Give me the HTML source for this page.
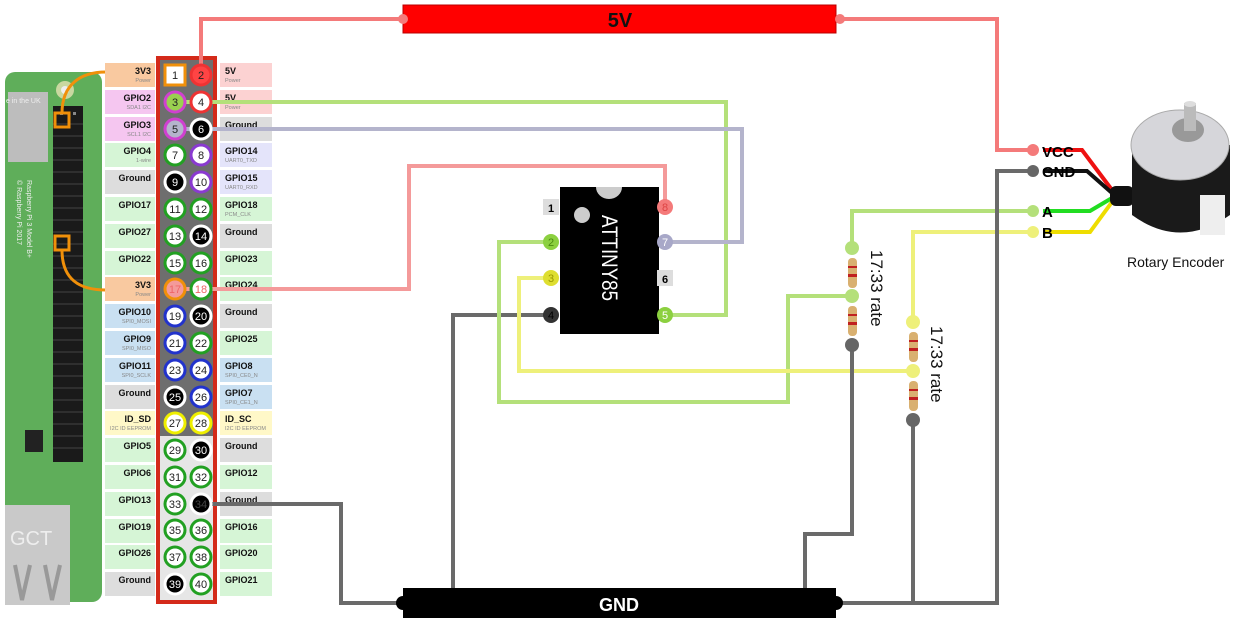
<!DOCTYPE html>
<html><head><meta charset="utf-8"><style>
html,body{margin:0;padding:0;background:#fff;}
svg{display:block;font-family:"Liberation Sans",sans-serif;}
.lb{font-size:9px;font-weight:bold;fill:#111;}
.sb{font-size:5.5px;fill:#888;}
.pn{font-size:11px;text-anchor:middle;fill:#222;}
</style></head><body>
<svg width="1238" height="625" viewBox="0 0 1238 625" xmlns="http://www.w3.org/2000/svg">
<!-- RPi board -->
<rect x="5" y="72" width="97" height="530" rx="10" fill="#5fae5a"/>
<rect x="8" y="92" width="40" height="70" fill="#bdbdbd"/>
<rect x="5" y="505" width="65" height="100" fill="#c9c9c9"/>
<text x="10" y="545" font-size="20" fill="#eee">GCT</text>
<path d="M15 565 L22 600 L30 565 M45 565 L52 600 L60 565" stroke="#999" stroke-width="4" fill="none"/>
<circle cx="65" cy="90" r="9" fill="#c9d8a0"/><circle cx="65" cy="90" r="4" fill="#eee"/>
<circle cx="65" cy="452" r="9" fill="#c9d8a0"/><circle cx="65" cy="452" r="4" fill="#eee"/>
<rect x="25" y="430" width="18" height="22" fill="#222"/>
<text x="0" y="0" font-size="7" fill="#eee" transform="translate(27,180) rotate(90)">Raspberry Pi 3 Model B+</text>
<text x="0" y="0" font-size="7" fill="#eee" transform="translate(17,180) rotate(90)">© Raspberry Pi 2017</text>
<text x="6" y="103" font-size="7" fill="#eee">e in the UK</text>
<rect x="53" y="106" width="30" height="356" fill="#1a1a1a"/>
<g fill="#888">
<rect x="60" y="112" width="3" height="3"/><rect x="73" y="112" width="3" height="3"/>
</g>
<g stroke="#444" stroke-width="1">
<path d="M53 124H83M53 136H83M53 148H83M53 160H83M53 172H83M53 184H83M53 196H83M53 208H83M53 220H83M53 232H83M53 244H83M53 256H83M53 268H83M53 280H83M53 292H83M53 304H83M53 316H83M53 328H83M53 340H83M53 352H83M53 364H83M53 376H83M53 388H83M53 400H83M53 412H83M53 424H83M53 436H83M53 448H83"/>
</g>
<rect x="55" y="113" width="14" height="14" fill="none" stroke="#f0900a" stroke-width="3"/>
<rect x="55" y="236" width="14" height="14" fill="none" stroke="#f0900a" stroke-width="3"/>
<path d="M62 113 C62 85 80 72 106 72" stroke="#f0900a" stroke-width="3" fill="none"/>
<path d="M62 250 C62 280 80 290 106 290" stroke="#f0900a" stroke-width="3" fill="none"/>

<!-- header -->
<rect x="158" y="58" width="57" height="544" fill="#e6e6e6" stroke="#d42a1a" stroke-width="4"/>
<rect x="160" y="60" width="53" height="376" fill="#6e6e6e"/>

<!-- left labels -->
<g>
<rect x="105" y="63" width="50" height="24" fill="#f9c9a0"/><text class="lb" x="151" y="74" text-anchor="end">3V3</text><text class="sb" x="151" y="82" text-anchor="end">Power</text>
<rect x="105" y="90" width="50" height="24" fill="#f5c6f0"/><text class="lb" x="151" y="101" text-anchor="end">GPIO2</text><text class="sb" x="151" y="109" text-anchor="end">SDA1 I2C</text>
<rect x="105" y="117" width="50" height="24" fill="#f5c6f0"/><text class="lb" x="151" y="128" text-anchor="end">GPIO3</text><text class="sb" x="151" y="136" text-anchor="end">SCL1 I2C</text>
<rect x="105" y="143" width="50" height="24" fill="#d6f5d6"/><text class="lb" x="151" y="154" text-anchor="end">GPIO4</text><text class="sb" x="151" y="162" text-anchor="end">1-wire</text>
<rect x="105" y="170" width="50" height="24" fill="#dddddd"/><text class="lb" x="151" y="181" text-anchor="end">Ground</text>
<rect x="105" y="197" width="50" height="24" fill="#d6f5d6"/><text class="lb" x="151" y="208" text-anchor="end">GPIO17</text>
<rect x="105" y="224" width="50" height="24" fill="#d6f5d6"/><text class="lb" x="151" y="235" text-anchor="end">GPIO27</text>
<rect x="105" y="251" width="50" height="24" fill="#d6f5d6"/><text class="lb" x="151" y="262" text-anchor="end">GPIO22</text>
<rect x="105" y="277" width="50" height="24" fill="#f9c9a0"/><text class="lb" x="151" y="288" text-anchor="end">3V3</text><text class="sb" x="151" y="296" text-anchor="end">Power</text>
<rect x="105" y="304" width="50" height="24" fill="#c9e0f2"/><text class="lb" x="151" y="315" text-anchor="end">GPIO10</text><text class="sb" x="151" y="323" text-anchor="end">SPI0_MOSI</text>
<rect x="105" y="331" width="50" height="24" fill="#c9e0f2"/><text class="lb" x="151" y="342" text-anchor="end">GPIO9</text><text class="sb" x="151" y="350" text-anchor="end">SPI0_MISO</text>
<rect x="105" y="358" width="50" height="24" fill="#c9e0f2"/><text class="lb" x="151" y="369" text-anchor="end">GPIO11</text><text class="sb" x="151" y="377" text-anchor="end">SPI0_SCLK</text>
<rect x="105" y="385" width="50" height="24" fill="#dddddd"/><text class="lb" x="151" y="396" text-anchor="end">Ground</text>
<rect x="105" y="411" width="50" height="24" fill="#fff8c8"/><text class="lb" x="151" y="422" text-anchor="end">ID_SD</text><text class="sb" x="151" y="430" text-anchor="end">I2C ID EEPROM</text>
<rect x="105" y="438" width="50" height="24" fill="#d6f5d6"/><text class="lb" x="151" y="449" text-anchor="end">GPIO5</text>
<rect x="105" y="465" width="50" height="24" fill="#d6f5d6"/><text class="lb" x="151" y="476" text-anchor="end">GPIO6</text>
<rect x="105" y="492" width="50" height="24" fill="#d6f5d6"/><text class="lb" x="151" y="503" text-anchor="end">GPIO13</text>
<rect x="105" y="519" width="50" height="24" fill="#d6f5d6"/><text class="lb" x="151" y="530" text-anchor="end">GPIO19</text>
<rect x="105" y="545" width="50" height="24" fill="#d6f5d6"/><text class="lb" x="151" y="556" text-anchor="end">GPIO26</text>
<rect x="105" y="572" width="50" height="24" fill="#dddddd"/><text class="lb" x="151" y="583" text-anchor="end">Ground</text>
</g>
<!-- right labels -->
<g>
<rect x="220" y="63" width="52" height="24" fill="#fcd2d2"/><text class="lb" x="225" y="74">5V</text><text class="sb" x="225" y="82">Power</text>
<rect x="220" y="90" width="52" height="24" fill="#fcd2d2"/><text class="lb" x="225" y="101">5V</text><text class="sb" x="225" y="109">Power</text>
<rect x="220" y="117" width="52" height="24" fill="#dddddd"/><text class="lb" x="225" y="128">Ground</text>
<rect x="220" y="143" width="52" height="24" fill="#e4e4fa"/><text class="lb" x="225" y="154">GPIO14</text><text class="sb" x="225" y="162">UART0_TXD</text>
<rect x="220" y="170" width="52" height="24" fill="#e4e4fa"/><text class="lb" x="225" y="181">GPIO15</text><text class="sb" x="225" y="189">UART0_RXD</text>
<rect x="220" y="197" width="52" height="24" fill="#d6f5d6"/><text class="lb" x="225" y="208">GPIO18</text><text class="sb" x="225" y="216">PCM_CLK</text>
<rect x="220" y="224" width="52" height="24" fill="#dddddd"/><text class="lb" x="225" y="235">Ground</text>
<rect x="220" y="251" width="52" height="24" fill="#d6f5d6"/><text class="lb" x="225" y="262">GPIO23</text>
<rect x="220" y="277" width="52" height="24" fill="#d6f5d6"/><text class="lb" x="225" y="288">GPIO24</text>
<rect x="220" y="304" width="52" height="24" fill="#dddddd"/><text class="lb" x="225" y="315">Ground</text>
<rect x="220" y="331" width="52" height="24" fill="#d6f5d6"/><text class="lb" x="225" y="342">GPIO25</text>
<rect x="220" y="358" width="52" height="24" fill="#c9e0f2"/><text class="lb" x="225" y="369">GPIO8</text><text class="sb" x="225" y="377">SPI0_CE0_N</text>
<rect x="220" y="385" width="52" height="24" fill="#c9e0f2"/><text class="lb" x="225" y="396">GPIO7</text><text class="sb" x="225" y="404">SPI0_CE1_N</text>
<rect x="220" y="411" width="52" height="24" fill="#fff8c8"/><text class="lb" x="225" y="422">ID_SC</text><text class="sb" x="225" y="430">I2C ID EEPROM</text>
<rect x="220" y="438" width="52" height="24" fill="#dddddd"/><text class="lb" x="225" y="449">Ground</text>
<rect x="220" y="465" width="52" height="24" fill="#d6f5d6"/><text class="lb" x="225" y="476">GPIO12</text>
<rect x="220" y="492" width="52" height="24" fill="#dddddd"/><text class="lb" x="225" y="503">Ground</text>
<rect x="220" y="519" width="52" height="24" fill="#d6f5d6"/><text class="lb" x="225" y="530">GPIO16</text>
<rect x="220" y="545" width="52" height="24" fill="#d6f5d6"/><text class="lb" x="225" y="556">GPIO20</text>
<rect x="220" y="572" width="52" height="24" fill="#d6f5d6"/><text class="lb" x="225" y="583">GPIO21</text>
</g>

<!-- wires -->
<g fill="none" stroke-width="4" stroke-linejoin="miter">
<path d="M201 75 V19 H403" stroke="#f47a7a"/>
<path d="M841 19 H997 V150 H1033" stroke="#f47a7a"/>
<path d="M175 102 H726 V315 H665" stroke="#b4e07a"/>
<path d="M175 129 H742 V242 H665" stroke="#b4b4cc"/>
<path d="M175 289 H409 V166 H665 V207" stroke="#f49a9a"/>
<path d="M201 504 H341 V603 H403" stroke="#6a6a6a"/>
<path d="M551 315 H453 V600 H403" stroke="#6a6a6a"/>
<path d="M551 242 H499 V402 H788 V296 H852" stroke="#b4e07a"/>
<path d="M551 278 H519 V371 H913" stroke="#eef07a"/>
<path d="M852 248 V211 H1033" stroke="#b4e07a"/>
<path d="M913 322 V232 H1033" stroke="#eef07a"/>
<path d="M852 345 V534 H805 V603 H835" stroke="#6a6a6a"/>
<path d="M913 420 V603 H835" stroke="#6a6a6a"/>
<path d="M1033 171 H997 V603 H835" stroke="#6a6a6a"/>
</g>

<!-- pins -->
<g stroke-width="3">
<rect x="165" y="65" width="20" height="20" fill="#fff" stroke="#f0900a"/><text class="pn" x="175" y="79">1</text>
<circle cx="201" cy="75" r="10" fill="#f44" stroke="#e33"/><text class="pn" x="201" y="79" fill="#c00">2</text>
<circle cx="175" cy="102" r="10" fill="#9ad050" stroke="#d040d0"/><text class="pn" x="175" y="106">3</text>
<circle cx="201" cy="102" r="10" fill="#fff" stroke="#e33"/><text class="pn" x="201" y="106">4</text>
<circle cx="175" cy="129" r="10" fill="#b4b4cc" stroke="#d040d0"/><text class="pn" x="175" y="133">5</text>
<circle cx="201" cy="129" r="10" fill="#000" stroke="#fff"/><text class="pn" x="201" y="133" style="fill:#fff">6</text>
<circle cx="175" cy="155" r="10" fill="#fff" stroke="#22a022"/><text class="pn" x="175" y="159">7</text>
<circle cx="201" cy="155" r="10" fill="#fff" stroke="#8a3ad0"/><text class="pn" x="201" y="159">8</text>
<circle cx="175" cy="182" r="10" fill="#000" stroke="#fff"/><text class="pn" x="175" y="186" style="fill:#fff">9</text>
<circle cx="201" cy="182" r="10" fill="#fff" stroke="#8a3ad0"/><text class="pn" x="201" y="186">10</text>
<circle cx="175" cy="209" r="10" fill="#fff" stroke="#22a022"/><text class="pn" x="175" y="213">11</text>
<circle cx="201" cy="209" r="10" fill="#fff" stroke="#22a022"/><text class="pn" x="201" y="213">12</text>
<circle cx="175" cy="236" r="10" fill="#fff" stroke="#22a022"/><text class="pn" x="175" y="240">13</text>
<circle cx="201" cy="236" r="10" fill="#000" stroke="#fff"/><text class="pn" x="201" y="240" style="fill:#fff">14</text>
<circle cx="175" cy="263" r="10" fill="#fff" stroke="#22a022"/><text class="pn" x="175" y="267">15</text>
<circle cx="201" cy="263" r="10" fill="#fff" stroke="#22a022"/><text class="pn" x="201" y="267">16</text>
<circle cx="175" cy="289" r="10" fill="#f49a9a" stroke="#f0900a"/><text class="pn" x="175" y="293" style="fill:#e66">17</text>
<circle cx="201" cy="289" r="10" fill="#fff" stroke="#22a022"/><text class="pn" x="201" y="293" style="fill:#e66">18</text>
<circle cx="175" cy="316" r="10" fill="#fff" stroke="#2233cc"/><text class="pn" x="175" y="320">19</text>
<circle cx="201" cy="316" r="10" fill="#000" stroke="#fff"/><text class="pn" x="201" y="320" style="fill:#fff">20</text>
<circle cx="175" cy="343" r="10" fill="#fff" stroke="#2233cc"/><text class="pn" x="175" y="347">21</text>
<circle cx="201" cy="343" r="10" fill="#fff" stroke="#22a022"/><text class="pn" x="201" y="347">22</text>
<circle cx="175" cy="370" r="10" fill="#fff" stroke="#2233cc"/><text class="pn" x="175" y="374">23</text>
<circle cx="201" cy="370" r="10" fill="#fff" stroke="#2233cc"/><text class="pn" x="201" y="374">24</text>
<circle cx="175" cy="397" r="10" fill="#000" stroke="#fff"/><text class="pn" x="175" y="401" style="fill:#fff">25</text>
<circle cx="201" cy="397" r="10" fill="#fff" stroke="#2233cc"/><text class="pn" x="201" y="401">26</text>
<circle cx="175" cy="423" r="10" fill="#fff" stroke="#eeee00"/><text class="pn" x="175" y="427">27</text>
<circle cx="201" cy="423" r="10" fill="#fff" stroke="#eeee00"/><text class="pn" x="201" y="427">28</text>
<circle cx="175" cy="450" r="10" fill="#fff" stroke="#22a022"/><text class="pn" x="175" y="454">29</text>
<circle cx="201" cy="450" r="10" fill="#000" stroke="#fff"/><text class="pn" x="201" y="454" style="fill:#fff">30</text>
<circle cx="175" cy="477" r="10" fill="#fff" stroke="#22a022"/><text class="pn" x="175" y="481">31</text>
<circle cx="201" cy="477" r="10" fill="#fff" stroke="#22a022"/><text class="pn" x="201" y="481">32</text>
<circle cx="175" cy="504" r="10" fill="#fff" stroke="#22a022"/><text class="pn" x="175" y="508">33</text>
<circle cx="201" cy="504" r="10" fill="#000" stroke="#fff"/><text class="pn" x="201" y="508" style="fill:#444">34</text>
<circle cx="175" cy="530" r="10" fill="#fff" stroke="#22a022"/><text class="pn" x="175" y="534">35</text>
<circle cx="201" cy="530" r="10" fill="#fff" stroke="#22a022"/><text class="pn" x="201" y="534">36</text>
<circle cx="175" cy="557" r="10" fill="#fff" stroke="#22a022"/><text class="pn" x="175" y="561">37</text>
<circle cx="201" cy="557" r="10" fill="#fff" stroke="#22a022"/><text class="pn" x="201" y="561">38</text>
<circle cx="175" cy="584" r="10" fill="#000" stroke="#fff"/><text class="pn" x="175" y="588" style="fill:#fff">39</text>
<circle cx="201" cy="584" r="10" fill="#fff" stroke="#22a022"/><text class="pn" x="201" y="588">40</text>
</g>

<!-- 5V bar -->
<rect x="403" y="5" width="433" height="28" fill="#ff0000" stroke="#b00" stroke-width="1"/>
<circle cx="403" cy="19" r="5" fill="#f47a7a"/><circle cx="840" cy="19" r="5" fill="#f47a7a"/>
<text x="620" y="27" font-size="20" font-weight="bold" text-anchor="middle" fill="#111">5V</text>

<!-- GND bar -->
<rect x="403" y="588" width="433" height="30" fill="#000"/>
<circle cx="403" cy="603" r="7" fill="#000"/><circle cx="836" cy="603" r="7" fill="#000"/>
<text x="619" y="611" font-size="18" font-weight="bold" text-anchor="middle" fill="#fff">GND</text>

<!-- ATtiny85 -->
<rect x="560" y="187" width="99" height="147" fill="#000"/>
<path d="M596 187 A13 12 0 0 0 622 187 Z" fill="#ccc"/>
<circle cx="582" cy="215" r="8" fill="#ccc"/>
<text x="0" y="0" font-size="22" fill="#fff" textLength="86" lengthAdjust="spacingAndGlyphs" transform="translate(602,215) rotate(90)">ATTINY85</text>
<rect x="543" y="199" width="16" height="16" fill="#ddd"/><text x="551" y="212" font-size="11" font-weight="bold" text-anchor="middle">1</text>
<circle cx="551" cy="242" r="8" fill="#8cd040"/><text x="551" y="246" font-size="11" text-anchor="middle" fill="#4a8a10">2</text>
<circle cx="551" cy="278" r="8" fill="#dede30"/><text x="551" y="282" font-size="11" text-anchor="middle" fill="#999900">3</text>
<circle cx="551" cy="315" r="8" fill="#333"/><text x="551" y="319" font-size="11" text-anchor="middle" fill="#000">4</text>
<circle cx="665" cy="207" r="8" fill="#f47a7a"/><text x="665" y="211" font-size="11" text-anchor="middle" fill="#d44">8</text>
<circle cx="665" cy="242" r="8" fill="#a8a8c8"/><text x="665" y="246" font-size="11" text-anchor="middle" fill="#fff">7</text>
<rect x="657" y="270" width="16" height="16" fill="#ddd"/><text x="665" y="283" font-size="11" font-weight="bold" text-anchor="middle">6</text>
<circle cx="665" cy="315" r="8" fill="#8cd040"/><text x="665" y="319" font-size="11" text-anchor="middle" fill="#fff">5</text>

<!-- resistors -->
<g>
<circle cx="852" cy="248" r="7" fill="#b4e07a"/>
<circle cx="852" cy="296" r="7" fill="#b4e07a"/>
<circle cx="852" cy="345" r="7" fill="#666"/>
<rect x="848" y="258" width="9" height="30" rx="4" fill="#d9b070"/>
<rect x="848" y="306" width="9" height="30" rx="4" fill="#d9b070"/>
<g fill="#c02020"><rect x="848" y="266" width="9" height="2"/><rect x="848" y="274" width="9" height="3"/><rect x="848" y="314" width="9" height="2"/><rect x="848" y="322" width="9" height="3"/></g>
<circle cx="913" cy="322" r="7" fill="#eef07a"/>
<circle cx="913" cy="371" r="7" fill="#eef07a"/>
<circle cx="913" cy="420" r="7" fill="#666"/>
<rect x="909" y="332" width="9" height="30" rx="4" fill="#d9b070"/>
<rect x="909" y="381" width="9" height="30" rx="4" fill="#d9b070"/>
<g fill="#c02020"><rect x="909" y="340" width="9" height="2"/><rect x="909" y="348" width="9" height="3"/><rect x="909" y="389" width="9" height="2"/><rect x="909" y="397" width="9" height="3"/></g>
<text x="0" y="0" font-size="17" fill="#111" transform="translate(871,250) rotate(90)">17:33 rate</text>
<text x="0" y="0" font-size="17" fill="#111" transform="translate(931,326) rotate(90)">17:33 rate</text>
</g>

<!-- encoder -->
<g>
<path d="M1043 150 H1082 L1112 190" stroke="#ee1111" stroke-width="4" fill="none"/>
<path d="M1043 171 H1087 L1112 193" stroke="#111" stroke-width="4" fill="none"/>
<path d="M1043 211 H1090 L1112 198" stroke="#22dd22" stroke-width="4" fill="none"/>
<path d="M1043 232 H1090 L1112 202" stroke="#eedd00" stroke-width="4" fill="none"/>
<rect x="1110" y="186" width="24" height="20" rx="6" fill="#111"/>
<path d="M1132 145 V215 Q1180 250 1230 215 V145 Z" fill="#1a1a1a"/>
<rect x="1200" y="195" width="25" height="40" fill="#eee"/>
<ellipse cx="1180" cy="145" rx="49" ry="35" fill="#d6d6da" stroke="#aaa"/>
<ellipse cx="1188" cy="130" rx="16" ry="12" fill="#999"/>
<rect x="1184" y="103" width="12" height="28" fill="#bbb"/>
<ellipse cx="1190" cy="104" rx="6" ry="3" fill="#ddd"/>
<circle cx="1033" cy="150" r="6" fill="#f47a7a"/>
<circle cx="1033" cy="171" r="6" fill="#666"/>
<circle cx="1033" cy="211" r="6" fill="#b4e07a"/>
<circle cx="1033" cy="232" r="6" fill="#eef07a"/>
<g font-size="15" font-weight="bold" fill="#000">
<text x="1042" y="157">VCC</text><text x="1042" y="177">GND</text>
<text x="1042" y="217">A</text><text x="1042" y="238">B</text>
</g>
<text x="1127" y="267" font-size="14" fill="#111">Rotary Encoder</text>
</g>
</svg>
</body></html>
